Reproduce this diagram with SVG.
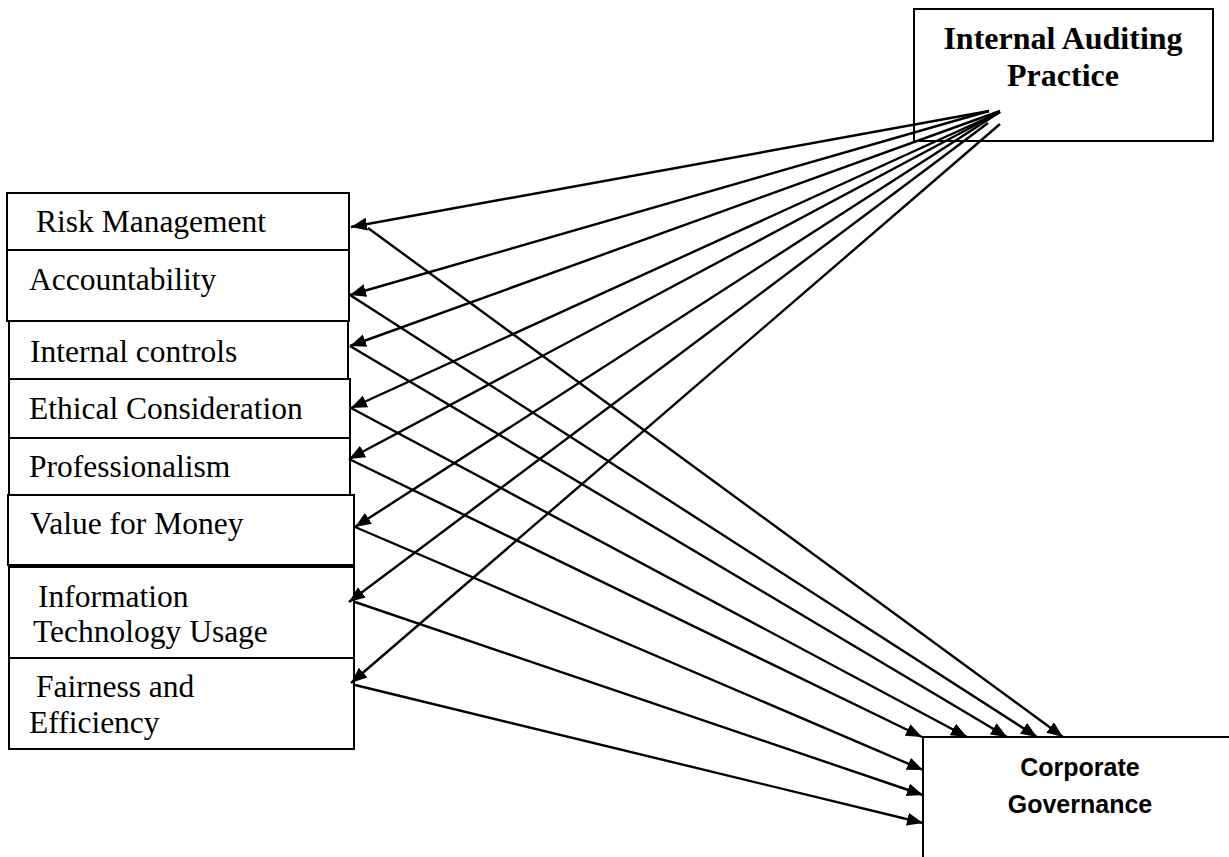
<svg xmlns="http://www.w3.org/2000/svg" width="1229" height="857" viewBox="0 0 1229 857">
<defs>
<marker id="ah" markerUnits="userSpaceOnUse" markerWidth="17" markerHeight="14" refX="16" refY="6.5" orient="auto">
<path d="M0,0 L16,6.5 L0,13 z" fill="#000"/>
</marker>
<style>
.box{fill:#fff;stroke:#000;stroke-width:2}
.t{font-family:"Liberation Serif","Times New Roman",serif;font-size:31.5px;fill:#000}
.tb{font-family:"Liberation Serif","Times New Roman",serif;font-size:32px;font-weight:bold;fill:#000}
.ts{font-family:"Liberation Sans",Arial,sans-serif;font-size:25px;font-weight:bold;fill:#000}
.c{stroke:#000;stroke-width:2.4;fill:none;marker-end:url(#ah)}
</style>
</defs>
<rect width="1229" height="857" fill="#fff"/>
<g id="iap">
<rect class="box" x="914" y="9" width="299" height="132"/>
<text class="tb" x="1063" y="49" text-anchor="middle">Internal Auditing</text>
<text class="tb" x="1063" y="86" text-anchor="middle">Practice</text>
</g>
<g id="rm"><rect class="box" x="7" y="193" width="342" height="57"/><text class="t" x="36" y="232">Risk Management</text></g>
<g id="acc"><rect class="box" x="7" y="250" width="342" height="71"/><text class="t" x="29" y="290">Accountability</text></g>
<g id="ic"><rect class="box" x="9" y="321" width="339" height="58"/><text class="t" x="30" y="362">Internal controls</text></g>
<g id="eth"><rect class="box" x="9" y="379" width="341" height="59"/><text class="t" x="29" y="419">Ethical Consideration</text></g>
<g id="prof"><rect class="box" x="9" y="438" width="341" height="57"/><text class="t" x="29" y="477">Professionalism</text></g>
<g id="vfm"><rect class="box" x="8" y="495" width="346" height="70"/><text class="t" x="30" y="534">Value for Money</text></g>
<g id="itu"><rect class="box" x="9" y="567" width="345" height="91"/><text class="t" x="38" y="607">Information</text><text class="t" x="33" y="642">Technology Usage</text></g>
<g id="fe"><rect class="box" x="9" y="658" width="345" height="91"/><text class="t" x="36" y="697">Fairness and</text><text class="t" x="29" y="733">Efficiency</text></g>
<g id="cg">
<path d="M923,857 L923,737 L1229,737" fill="none" stroke="#000" stroke-width="2"/>
<text class="ts" x="1080" y="776" text-anchor="middle">Corporate</text>
<text class="ts" x="1080" y="813" text-anchor="middle">Governance</text>
</g>
<g id="connectors">
<line class="c" x1="989" y1="111" x2="351" y2="227"/>
<line class="c" x1="989" y1="111" x2="350" y2="295"/>
<line class="c" x1="1000" y1="111" x2="350" y2="346"/>
<line class="c" x1="1000" y1="112" x2="351" y2="408"/>
<line class="c" x1="1000" y1="112" x2="349" y2="459"/>
<line class="c" x1="1000" y1="112" x2="355" y2="527"/>
<line class="c" x1="988" y1="123" x2="349" y2="602"/>
<line class="c" x1="1000" y1="124" x2="351" y2="683"/>
<line class="c" x1="368" y1="228" x2="1063" y2="737"/>
<line class="c" x1="350" y1="295" x2="1037" y2="737"/>
<line class="c" x1="350" y1="346" x2="1007" y2="737"/>
<line class="c" x1="351" y1="408" x2="967" y2="737"/>
<line class="c" x1="349" y1="459" x2="922" y2="737"/>
<line class="c" x1="355" y1="527" x2="923" y2="770"/>
<line class="c" x1="355" y1="602" x2="923" y2="795"/>
<line class="c" x1="355" y1="685" x2="923" y2="823"/>
</g>
</svg>
